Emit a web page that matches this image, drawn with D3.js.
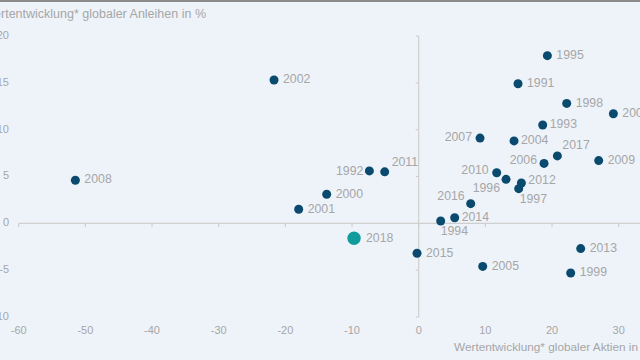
<!DOCTYPE html>
<html><head><meta charset="utf-8">
<script src="https://cdn.jsdelivr.net/npm/d3@7/dist/d3.min.js"></script>
<style>html,body{margin:0;padding:0;background:#eef3fa;}svg{display:block;font-family:"Liberation Sans",Arial,sans-serif;}</style>
</head><body><svg id="c" width="640" height="360"></svg>
<script>
const years = [1991,1992,1993,1994,1995,1996,1997,1998,1999,2000,2001,2002,2003,2004,2005,2006,2007,2008,2009,2010,2011,2012,2013,2014,2015,2016,2017,2018];
const stocks = [14.9,-7.4,18.6,3.3,19.3,13.1,15.0,22.2,22.8,-13.8,-18.0,-21.7,29.2,14.3,9.6,18.8,9.2,-51.5,27.0,11.7,-5.1,15.4,24.3,5.4,-0.25,7.8,20.8,-9.7];
const bonds = [14.9,5.6,10.5,0.25,17.9,4.7,3.7,12.8,-5.3,3.1,1.5,15.3,11.7,8.8,-4.6,6.4,9.1,4.6,6.7,5.4,5.5,4.3,-2.7,0.6,-3.2,2.1,7.2,-1.6];
const xTicks = [-60,-50,-40,-30,-20,-10,0,10,20,30];
const yTicks = [20,15,10,5,0,-5,-10];
const highlightYear = 2018;
const yTitle = "Wertentwicklung* globaler Anleihen in %";
const xTitle = "Wertentwicklung* globaler Aktien in %";

// label placement (style, not data)
const labelPos = {
  1992:{dx:-6,dy:1,a:"end"}, 2007:{dx:-8,dy:0,a:"end"}, 2006:{dx:-7,dy:-3,a:"end"},
  2010:{dx:-8,dy:-2,a:"end"}, 1996:{dx:-6,dy:9,a:"end"}, 2016:{dx:-6,dy:-7,a:"end"},
  2011:{dx:7,dy:-9,a:"start"}, 2017:{dx:5,dy:-10,a:"start"}, 1997:{dx:1,dy:11,a:"start"},
  1994:{dx:0,dy:11,a:"start"}, 2012:{dx:7,dy:-2,a:"start"}, 2018:{dx:12,dy:0,a:"start"},
  1993:{dx:7,dy:0,a:"start"}, 2004:{dx:7,dy:0,a:"start"}, 2014:{dx:7,dy:0,a:"start"}
};

const svg = d3.select("#c");
const x = d3.scaleLinear().domain([-60,0]).range([18.7,418.7]);
const y = d3.scaleLinear().domain([-10,20]).range([317,36]);
const grey = "#a6a6a6", axisCol = "#cfcfcf";

// top border
svg.append("rect").attr("x",0).attr("y",0).attr("width",640).attr("height",2).attr("fill","#8a8a8a");

// x axis at y=0
const xa = svg.append("g").attr("transform",`translate(0,${y(0)})`);
xa.append("line").attr("x1",x(-60)).attr("x2",640).attr("y1",0).attr("y2",0).attr("stroke",axisCol).attr("stroke-width",1.2);
xa.selectAll("line.t").data(xTicks).join("line").attr("class","t")
  .attr("x1",d=>x(d)).attr("x2",d=>x(d)).attr("y1",0).attr("y2",4).attr("stroke",axisCol).attr("stroke-width",1.2);
svg.selectAll("text.xt").data(xTicks).join("text").attr("class","xt")
  .attr("x",d=>x(d)).attr("y",331).attr("dominant-baseline","middle").attr("text-anchor","middle")
  .attr("font-size",11).attr("fill",grey).text(d=>d);

// y axis at x=0
const ya = svg.append("g").attr("transform",`translate(${x(0)},0)`);
ya.append("line").attr("x1",0).attr("x2",0).attr("y1",y(20)).attr("y2",y(-10)).attr("stroke",axisCol).attr("stroke-width",1.2);
ya.selectAll("line.t").data(yTicks).join("line").attr("class","t")
  .attr("x1",-3).attr("x2",0).attr("y1",d=>y(d)).attr("y2",d=>y(d)).attr("stroke",axisCol).attr("stroke-width",1.2);
svg.selectAll("text.yt").data(yTicks).join("text").attr("class","yt")
  .attr("x",9).attr("y",d=>y(d)).attr("dominant-baseline","middle").attr("text-anchor","end")
  .attr("font-size",11).attr("fill",grey).text(d=>d);

// titles
svg.append("text").attr("x",206).attr("y",14.5).attr("dominant-baseline","middle").attr("text-anchor","end")
  .attr("font-size",12.5).attr("fill",grey).text(yTitle);
svg.append("text").attr("x",454).attr("y",348).attr("dominant-baseline","middle").attr("text-anchor","start")
  .attr("font-size",11.8).attr("fill",grey).text(xTitle);

const pts = years.map((yr,i)=>({yr, sx:stocks[i], by:bonds[i]}));
svg.selectAll("circle.p").data(pts).join("circle").attr("class","p")
  .attr("cx",d=>x(d.sx)).attr("cy",d=>y(d.by))
  .attr("r",d=>d.yr===highlightYear?6.7:4.5)
  .attr("fill",d=>d.yr===highlightYear?"#109b9c":"#0a4a6f");
svg.selectAll("text.l").data(pts).join("text").attr("class","l")
  .attr("x",d=>x(d.sx)+((labelPos[d.yr]||{}).dx ?? 9))
  .attr("y",d=>y(d.by)+((labelPos[d.yr]||{}).dy ?? 0))
  .attr("text-anchor",d=>(labelPos[d.yr]||{}).a || "start")
  .attr("dominant-baseline","middle").attr("font-size",12.3).attr("fill",grey).text(d=>d.yr);
</script></body></html>
